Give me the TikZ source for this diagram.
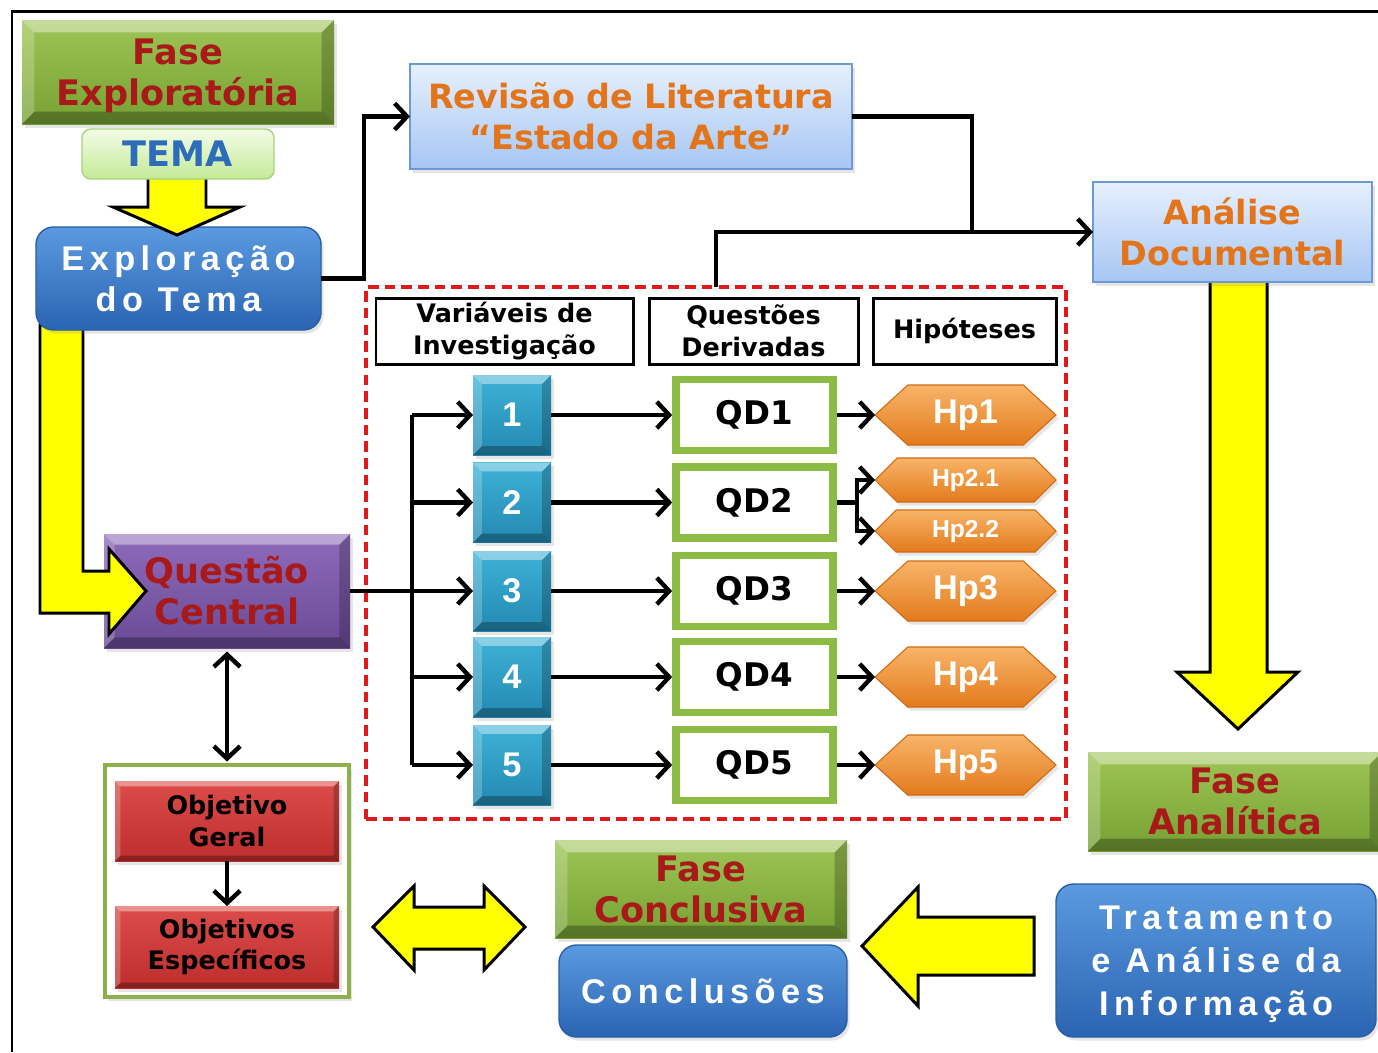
\documentclass[tikz,border=0pt]{standalone}
\usepackage{fontspec}
\setmainfont{Liberation Sans}
\newfontfamily\heavy{DejaVu Sans Bold}
\newfontfamily\boldsans{Liberation Sans Bold}
\newfontfamily\spaced{Liberation Sans Bold}[LetterSpace=16]
\usetikzlibrary{arrows.meta,shapes.symbols,shadows}
\newcommand\ppb{path picture bounding box}

\definecolor{faseTop}{HTML}{9EC556}
\definecolor{faseBot}{HTML}{76A133}
\definecolor{faseRed}{HTML}{A81A1A}
\definecolor{temaTop}{HTML}{F3FCE8}
\definecolor{temaBot}{HTML}{C3EA96}
\definecolor{temaLine}{HTML}{A6D37C}
\definecolor{temaBlue}{HTML}{2C6CB8}
\definecolor{blueTop}{HTML}{5A9AE0}
\definecolor{blueBot}{HTML}{2B64B2}
\definecolor{blueLine}{HTML}{2A5DA5}
\definecolor{lbTop}{HTML}{E6F0FD}
\definecolor{lbBot}{HTML}{A6C6F3}
\definecolor{lbLine}{HTML}{6E98D6}
\definecolor{orangeTxt}{HTML}{E3741A}
\definecolor{purpTop}{HTML}{8E6BBB}
\definecolor{purpBot}{HTML}{6A4A96}
\definecolor{tealTop}{HTML}{3EB2D7}
\definecolor{tealBot}{HTML}{2389B2}
\definecolor{redTop}{HTML}{DC4C4A}
\definecolor{redBot}{HTML}{BE2E2C}
\definecolor{qdGreen}{HTML}{8BBB45}
\definecolor{hpTop}{HTML}{F8B468}
\definecolor{hpBot}{HTML}{E37A1C}
\definecolor{hpLine}{HTML}{D06A14}
\definecolor{dashRed}{HTML}{E01A1A}
\definecolor{arrowYellow}{HTML}{FFFF00}
\definecolor{ogGreen}{HTML}{8DB14A}

\tikzset{
  % raised bevel drawn inside a rectangular node
  bevel/.style={path picture={
    \fill[white,opacity=.4] (\ppb.north west) -- (\ppb.north east)
      -- ([shift={(-#1,-#1)}]\ppb.north east) -- ([shift={(#1,-#1)}]\ppb.north west) -- cycle;
    \fill[white,opacity=.22] (\ppb.north west) -- ([shift={(#1,-#1)}]\ppb.north west)
      -- ([shift={(#1,#1)}]\ppb.south west) -- (\ppb.south west) -- cycle;
    \fill[black,opacity=.28] (\ppb.south west) -- ([shift={(#1,#1)}]\ppb.south west)
      -- ([shift={(-#1,#1)}]\ppb.south east) -- (\ppb.south east) -- cycle;
    \fill[black,opacity=.22] (\ppb.north east) -- (\ppb.south east)
      -- ([shift={(-#1,#1)}]\ppb.south east) -- ([shift={(-#1,-#1)}]\ppb.north east) -- cycle;
  }},
  wh/.style 2 args={minimum width=#1*0.02cm,minimum height=#2*0.02cm},
  base/.style={inner sep=0pt,outer sep=0pt,align=center},
  shadowed/.style={drop shadow={shadow xshift=1.5pt,shadow yshift=-2pt,opacity=.2}},
  fasebox/.style={base,shadowed,top color=faseTop,bottom color=faseBot,bevel=7pt,
    text depth=0pt,text=faseRed,font=\heavy\fontsize{20}{23.5}\selectfont},
  lbbox/.style={base,shadowed,draw=lbLine,line width=.8pt,top color=lbTop,bottom color=lbBot,
    text=orangeTxt,font=\heavy\fontsize{19}{23.3}\selectfont},
  bluebox/.style={base,shadowed,draw=blueLine,line width=.8pt,rounded corners=10pt,
    top color=blueTop,bottom color=blueBot,text=white,font=\spaced\fontsize{19.5}{23.6}\selectfont},
  temabox/.style={base,draw=temaLine,line width=.8pt,rounded corners=5pt,
    top color=temaTop,bottom color=temaBot,text=temaBlue,font=\heavy\fontsize{20}{24}\selectfont},
  qcbox/.style={base,shadowed,top color=purpTop,bottom color=purpBot,bevel=6pt,
    text=faseRed,font=\heavy\fontsize{20}{23.3}\selectfont},
  redbox/.style={base,shadowed,top color=redTop,bottom color=redBot,bevel=3pt,
    text=black,font=\heavy\fontsize{14.5}{18}\selectfont},
  hdr/.style={base,draw=black,line width=1.7pt,fill=white,
    font=\heavy\fontsize{14.5}{18}\selectfont},
  numbox/.style={base,shadowed,top color=tealTop,bottom color=tealBot,bevel=5pt,
    text=white,font=\boldsans\fontsize{19.5}{20}\selectfont},
  qdbox/.style={base,shadowed,draw=qdGreen,line width=4.5pt,fill=white,
    font=\heavy\fontsize{18.5}{20}\selectfont},
  hpbox/.style={base,shadowed,signal,signal to=east and west,signal pointer angle=85,
    draw=hpLine,line width=.6pt,top color=hpTop,bottom color=hpBot,
    text=white,font=\boldsans\fontsize{19.5}{20}\selectfont},
  hpsmall/.style={hpbox,signal pointer angle=90,font=\boldsans\fontsize{14}{16}\selectfont},
  line/.style={line width=2.5pt},
  conn/.style={line width=2.5pt,-{Straight Barb[length=7pt,width=15pt]}},
  conn2/.style={line width=2.5pt,{Straight Barb[length=7pt,width=15pt]}-{Straight Barb[length=7pt,width=15pt]}},
  yarrow/.style={fill=arrowYellow,draw=black,line width=1.7pt,line join=miter},
}

\begin{document}
\begin{tikzpicture}[x=0.02cm,y=-0.02cm]
\useasboundingbox (0,0) rectangle (1378,1052);
\fill[white] (0,0) rectangle (1378,1052);

% outer frame
\draw[line width=1.4pt] (12,1052) -- (12,11.5) -- (1378,11.5);

% dashed frame around variables, questions and hypotheses
\node[base,draw=dashRed,dash pattern=on 6pt off 3.5pt,line width=2pt,wh={700}{532}] (grp) at (716,553) {};

% analysis branch on the right
\filldraw[yarrow] (1210,278) -- (1267,278) -- (1267,672) -- (1298,672) -- (1238,729)
  -- (1177,672) -- (1210,672) -- cycle;
\node[lbbox,wh={279}{100}] (ad) at (1232.5,232) {Análise\\Documental};
\node[lbbox,wh={442}{105}] (rev) at (631,116.5) {Revisão de Literatura\\“Estado da Arte”};

% exploration column
\node[qcbox,wh={246}{114}] (qc) at (227,591) {Questão\\Central};
\filldraw[yarrow] (40,325) -- (83,325) -- (83,571) -- (109,571) -- (109,549) -- (146,591)
  -- (109,634) -- (109,613) -- (40,613) -- cycle;
\node[bluebox,wh={285}{103}] (exp) at (178.5,278.5) {Exploração\\do Tema};
\filldraw[yarrow] (148,175) -- (206,175) -- (206,207) -- (240,207) -- (177,235)
  -- (113,207) -- (148,207) -- cycle;
\node[temabox,wh={192}{50}] (tema) at (178,154) {TEMA};
\node[fasebox,wh={312}{104}] (fe) at (178,72) {Fase\\Exploratória};

% objectives
\node[base,draw=ogGreen,line width=2.2pt,fill=white,shadowed,wh={244}{232}] (og) at (227,881) {};
\node[redbox,wh={224}{80}] (obg) at (227,821) {Objetivo\\Geral};
\node[redbox,wh={224}{82}] (obe) at (227,947) {Objetivos\\Específicos};

% column headers
\node[hdr,wh={257}{66}] (hv) at (504.5,331) {Variáveis de\\Investigação};
\node[hdr,wh={209}{66}] (hq) at (753.5,331) {Questões\\Derivadas};
\node[hdr,wh={183}{66}] (hh) at (964.5,331) {Hipóteses};

% variables and derived questions
\foreach \i/\y in {1/415,2/502.5,3/591,4/677,5/765}{
  \node[numbox,wh={78}{80}] (n\i) at (512,\y) {\i};
  \node[qdbox,wh={157}{71}] (qd\i) at (754.5,\y) {QD\i};
}
% hypotheses
\foreach \i/\y in {1/415,3/591,4/677,5/765}
  \node[hpbox,wh={181}{60}] (hp\i) at (965.5,\y) {Hp\i};
\node[hpsmall,wh={181}{44}] (hp21) at (965.5,480) {Hp2.1};
\node[hpsmall,wh={181}{42}] (hp22) at (965.5,531) {Hp2.2};

% conclusion row
\node[fasebox,wh={294}{99}] (fa) at (1235,801.5) {Fase\\Analítica};
\node[bluebox,wh={320}{153},text depth=0pt,font=\spaced\fontsize{19.5}{24.3}\selectfont] (ta) at (1216,960.5) {Tratamento\\e Análise da\\Informação};
\node[fasebox,wh={292}{98}] (fc) at (701,889) {Fase\\Conclusiva};
\node[bluebox,wh={288}{92}] (cc) at (703,991) {Conclusões};
\filldraw[yarrow] (1034,917) -- (1034,975) -- (918,975) -- (918,1006) -- (862,946)
  -- (918,887) -- (918,917) -- cycle;
\filldraw[yarrow] (373,927) -- (414,886) -- (414,907) -- (484,907) -- (484,886) -- (525,927)
  -- (484,970) -- (484,949) -- (414,949) -- (414,970) -- cycle;

% connectors
\draw[conn] (exp.east) -- ++(43,0) |- (rev.west);
\coordinate (jn) at (972,232);
\draw[line] (rev.east) -| (jn);
\draw[line] (grp.north) |- (jn);
\draw[conn] (jn) -- (ad.west);

\draw[conn] (qc.east) -- (n3.west);
\coordinate (bus) at (412,415);
\draw[line] (n1.west -| bus) -- (n5.west -| bus);
\foreach \i in {1,2,4,5} \draw[conn] (n\i.west -| bus) -- (n\i.west);
\foreach \i in {1,...,5} \draw[conn,shorten >=2.2pt] (n\i.east) -- (qd\i.west);
\foreach \i in {1,3,4,5} \draw[conn,shorten <=2.2pt] (qd\i.east) -- (hp\i.west);
\coordinate (br) at (857,502.5);
\draw[line,shorten <=2.2pt] (qd2.east) -- (br);
\draw[conn] (br) |- (hp21.west);
\draw[conn] (br) |- (hp22.west);

\draw[conn2,shorten <=2pt,shorten >=2pt] (qc.south) -- (og.north);
\draw[conn] (obg.south) -- (obe.north);
\end{tikzpicture}
\end{document}
